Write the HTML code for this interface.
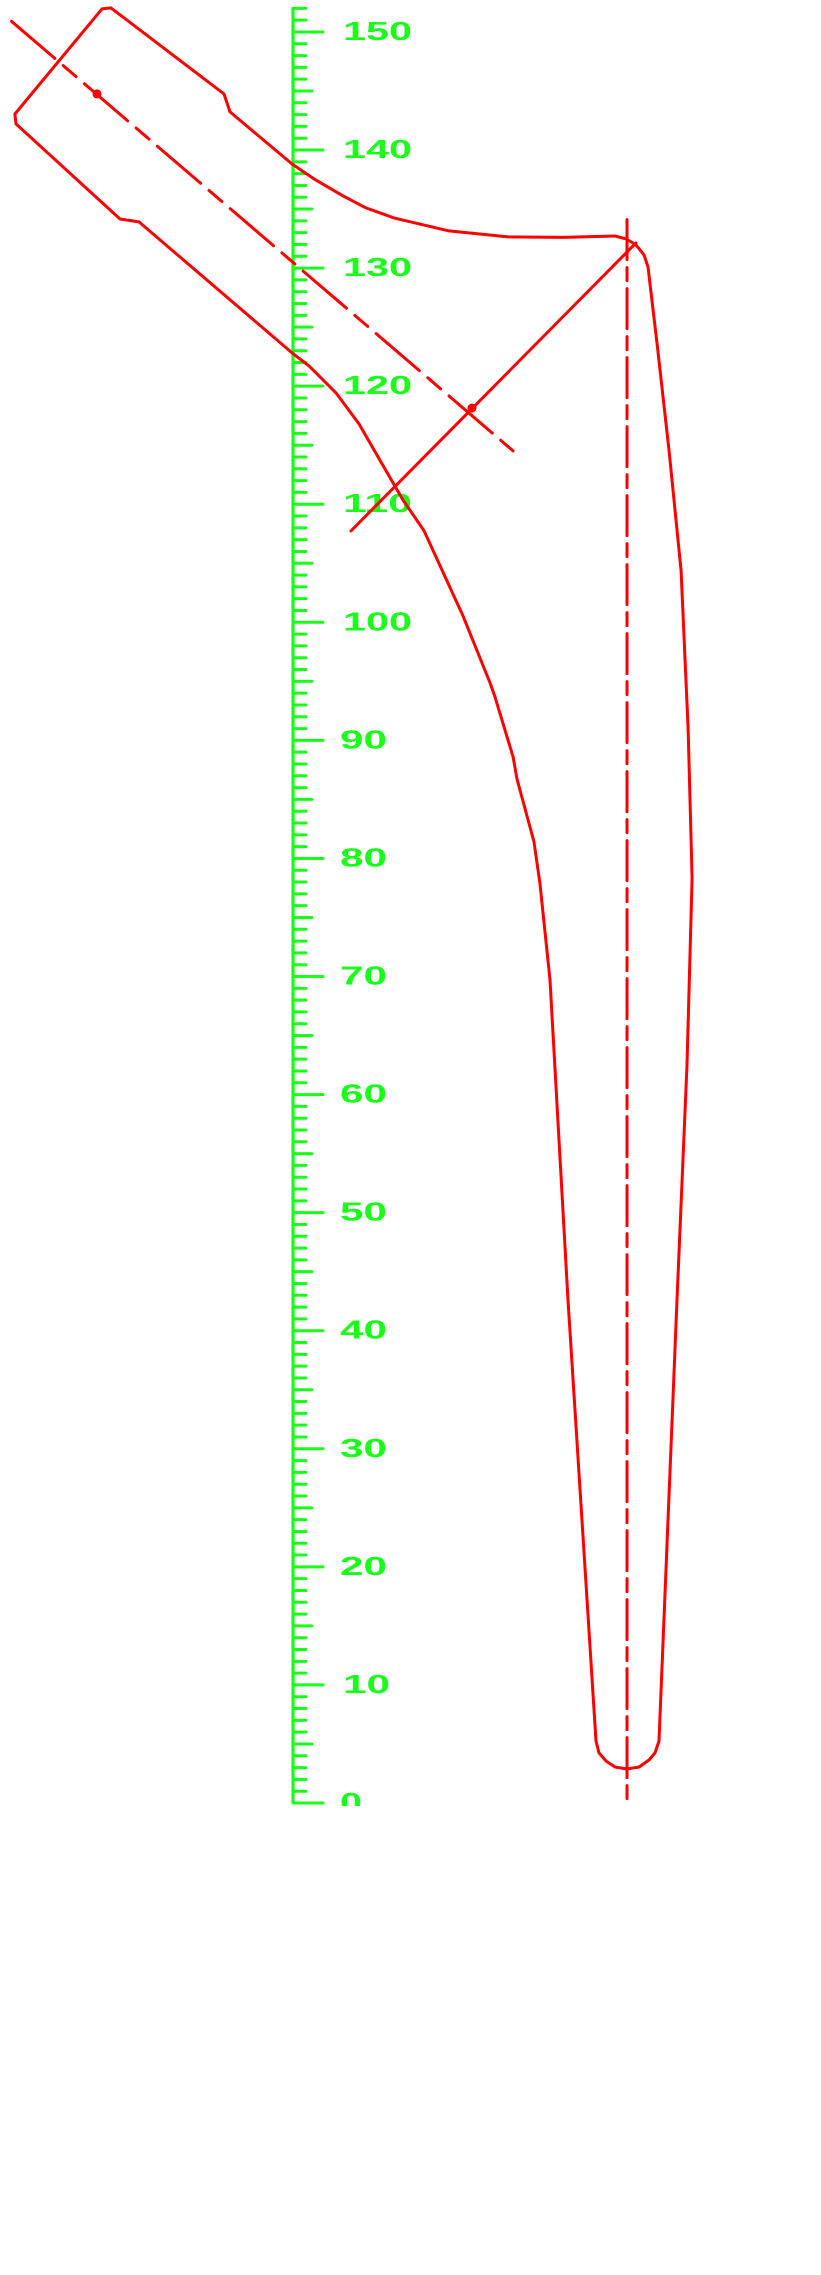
<!DOCTYPE html>
<html><head><meta charset="utf-8"><style>
html,body{margin:0;padding:0;background:#fff;}
svg{display:block;}
</style></head><body>
<svg id="drawing" width="821" height="2275" viewBox="0 0 821 2275" xmlns="http://www.w3.org/2000/svg">
<defs><clipPath id="clip"><rect x="0" y="0" width="821" height="1806"/></clipPath></defs>
<g id="ruler" clip-path="url(#clip)"></g>
<g id="shapes"></g>
</svg>
<script>
// ruler data (units)
const rulerMax = 152;
const labelValues = [0,10,20,30,40,50,60,70,80,90,100,110,120,130,140,150];
// outline in drawing units (u horizontal from ruler, v vertical up)
const outlineU = [-23.55,-16.18,-15.42,-5.84,-5.34,-0.08,1.78,4.24,6.18,8.55,13.21,18.21,22.87,27.27,28.21,29.05,29.73,30.07,30.84,31.85,32.87,33.46,33.80,33.37,32.52,31.00,30.66,30.15,29.31,28.29,27.27,26.51,25.92,25.66,23.29,21.77,20.92,20.41,18.97,18.64,17.11,16.69,14.40,11.10,9.32,7.11,5.59,3.64,1.36,-0.08,-13.04,-14.65,-23.46];
const outlineV = [143.05,151.95,152.04,144.75,143.23,138.82,137.55,136.11,135.10,134.25,133.15,132.64,132.60,132.72,132.47,131.96,131.12,130.10,123.58,114.51,104.35,91.05,78.35,62.51,42.60,5.25,4.24,3.64,3.05,2.88,3.05,3.56,4.24,5.25,42.60,69.71,77.84,81.40,86.73,88.60,93.68,94.86,100.54,107.74,110.36,114.18,116.80,119.43,121.71,122.82,133.91,134.16,142.21];
const axisLineU = [-23.84,18.64];
const axisLineV = [150.90,114.52];
const crossLineU = [4.91,29.05];
const crossLineV = [107.74,132.13];
const vertAxisU = 28.29;
const vertAxisV = [134.1,0];
const dotU = [-16.60,15.16];
const dotV = [144.75,118.15];

const UNIT = 11.807, X0 = 293, Y0 = 1803;
const sx = u => X0 + u*UNIT;
const sy = v => Y0 - v*UNIT;
const NS = 'http://www.w3.org/2000/svg';
function mk(tag, attrs, parent){
  const el = document.createElementNS(NS, tag);
  for (const k in attrs) el.setAttribute(k, attrs[k]);
  parent.appendChild(el);
  return el;
}
const ruler = document.getElementById('ruler');
const shapes = document.getElementById('shapes');
const G = '#1aff1a', R = '#ff0000';

const spine = mk('line', {x1:X0, y1:sy(rulerMax)-1, x2:X0, y2:Y0, stroke:G, 'stroke-width':3.2}, ruler);


for (let v = 0; v <= rulerMax; v++) {
  const len = v % 10 === 0 ? 30 : (v % 5 === 0 ? 19 : 13);
  const t = mk('line', {x1:X0, y1:sy(v), x2:X0+len, y2:sy(v), stroke:G, 'stroke-width':3, 'stroke-linecap':'round'}, ruler);
  
  
}
labelValues.forEach(v => {
  const s = String(v);
  const w = s.length === 3 ? 69 : (s.length === 2 ? 47 : 22);
  const x = s.length === 3 ? 343 : (v === 10 ? 343 : 340);
  const t = mk('text', {x:x, y:sy(v)+8, fill:G, 'font-family':'Liberation Sans, sans-serif', 'font-weight':'bold', 'font-size':26, textLength:w, lengthAdjust:'spacingAndGlyphs'}, ruler);
  t.textContent = s;
  
  
});

const pts = outlineU.map((u,i) => sx(u).toFixed(1)+','+sy(outlineV[i]).toFixed(1)).join(' ');
const outline = mk('polygon', {points:pts, fill:'none', stroke:R, 'stroke-width':3, 'stroke-linejoin':'round'}, shapes);



const diag = mk('line', {x1:sx(axisLineU[0]), y1:sy(axisLineV[0]), x2:sx(axisLineU[1]), y2:sy(axisLineV[1]), stroke:R, 'stroke-width':3, 'stroke-dasharray':'57 11 17 11', 'stroke-linecap':'round'}, shapes);



const cross = mk('line', {x1:sx(crossLineU[0]), y1:sy(crossLineV[0]), x2:sx(crossLineU[1]), y2:sy(crossLineV[1]), stroke:R, 'stroke-width':3, 'stroke-linecap':'round'}, shapes);



const vert = mk('line', {x1:sx(vertAxisU), y1:sy(vertAxisV[0]), x2:sx(vertAxisU), y2:sy(vertAxisV[1]), stroke:R, 'stroke-width':3, 'stroke-dasharray':'40 8 13 8', 'stroke-linecap':'round'}, shapes);



dotU.forEach((u,i) => {
  const d = mk('circle', {cx:sx(u), cy:sy(dotV[i]), r:4.5, fill:R}, shapes);
  
  
});
</script>
</body></html>
